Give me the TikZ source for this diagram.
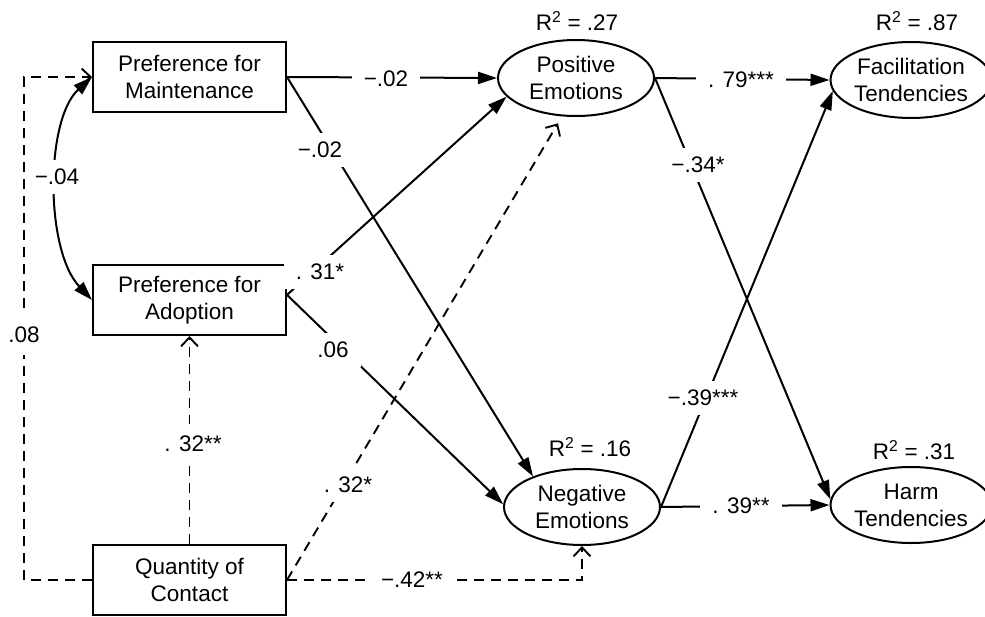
\documentclass[tikz,border=0pt]{standalone}
\usepackage{fontspec}
\setmainfont{Liberation Sans}
\usetikzlibrary{arrows.meta,shapes.geometric}
\begin{document}
\begin{tikzpicture}[x=1pt,y=-1pt,
  every node/.style={font=\fontsize{22.5}{27}\selectfont},
  box/.style={draw,line width=2pt,minimum width=193pt,minimum height=70pt,align=center,inner sep=0pt},
  oval/.style={ellipse,draw,line width=2pt,minimum width=156pt,minimum height=76pt,align=center,inner sep=0pt},
  lab/.style={fill=white,inner xsep=12pt,inner ysep=9pt},
  arr/.style={line width=2pt,-{Triangle[length=19pt,width=12pt]}},
  darr/.style={line width=1.9pt,dash pattern=on 10pt off 7pt,-{Straight Barb[length=9pt,width=17pt,line width=1.9pt]}},
  dbl/.style={line width=2pt,{Triangle[length=19pt,width=12pt]}-{Triangle[length=19pt,width=12pt]}}]
\useasboundingbox (0,0) rectangle (985,616);
% nodes
\node[box] (maint) at (189.5,77) {Preference for\\Maintenance};
\node[box] (adopt) at (189.5,300) {Preference for\\Adoption};
\node[box] (qc) at (189.5,580) {Quantity of\\Contact};
\node[oval] (pos) at (576,78) {Positive\\Emotions};
\node[oval] (neg) at (582,507) {Negative\\Emotions};
\node[oval,minimum width=148pt] (fac) at (911,80) {Facilitation\\Tendencies};
\node[oval,minimum width=148pt] (harm) at (911,505) {Harm\\Tendencies};
\node (r1) at (577,21) {R\textsuperscript{2} = .27};
\node (r2) at (590,447) {R\textsuperscript{2} = .16};
\node (r3) at (917,21) {R\textsuperscript{2} = .87};
\node (r4) at (914,450) {R\textsuperscript{2} = .31};
\coordinate (L) at (24,300);
% connectors
\draw[arr] (maint.east) -- (pos.west);
\draw[arr] (maint.east) -- (neg.148);
\draw[arr] (adopt.3) -- (pos.195);
\draw[arr] (adopt.3) -- (neg.178);
\draw[darr] (qc.north) -- (adopt.south);
\draw[darr] (qc.west) -| (L) |- (maint.west);
\draw[darr,shorten >=8pt] (qc.east) -- (pos.250);
\draw[darr] (qc.east) -| (neg.south);
\draw[dbl] (maint.west) .. controls (45,120) and (45,250) .. (adopt.west);
\draw[arr] (pos.east) -- (fac.west);
\draw[arr] (pos.east) -- (harm.176);
\draw[arr] (neg.east) -- (fac.188);
\draw[arr] (neg.east) -- (harm.west);
% labels
\node[lab] (l1) at (386,79) {−.02};
\node[lab] (l2) at (320,150) {−.02};
\node[lab,inner xsep=2pt] (l3) at (57,177) {−.04};
\node[lab,inner xsep=4pt,inner ysep=12pt] (l4) at (24,335) {.08};
\node[lab] (l5) at (320,272) {. 31*};
\node[lab] (l6) at (333,350) {.06};
\node[lab,inner ysep=12pt] (l7) at (193,444) {. 32**};
\node[lab] (l8) at (348,485) {. 32*};
\node[lab] (l9) at (412,580) {−.42**};
\node[lab] (l10) at (741,80) {. 79***};
\node[lab] (l11) at (698,165) {−.34*};
\node[lab] (l12) at (703,398) {−.39***};
\node[lab] (l13) at (741,506) {. 39**};
\end{tikzpicture}
\end{document}
